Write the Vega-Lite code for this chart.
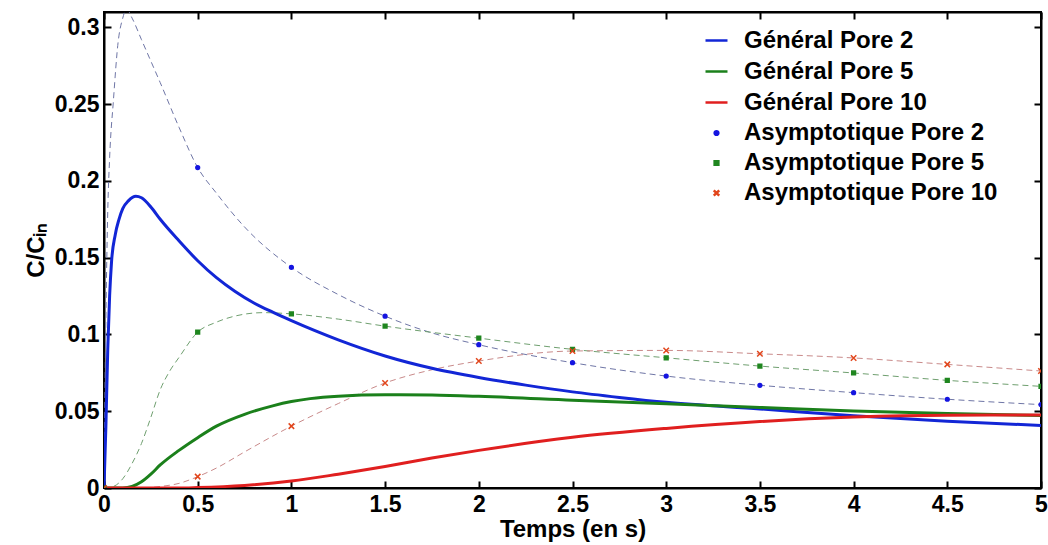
{
  "$schema": "https://vega.github.io/schema/vega-lite/v6.json",
  "width": 937,
  "height": 476,
  "autosize": "none",
  "padding": {"left": 104, "top": 12, "right": 7, "bottom": 57},
  "background": "white",
  "config": {
    "view": {"stroke": "black", "strokeWidth": 2},
    "font": "Liberation Sans",
    "axis": {
      "labelFont": "Liberation Sans", "labelFontWeight": "bold", "labelFontSize": 23, "labelColor": "black",
      "titleFont": "Liberation Sans", "titleFontWeight": "bold", "titleFontSize": 24, "titleColor": "black",
      "domainColor": "black", "domainWidth": 2, "tickColor": "black", "tickWidth": 2,
      "tickSize": -7, "labelPadding": 12, "grid": false, "labelFlush": false, "labelOverlap": false, "labelBound": false
    },
    "legend": {
      "orient": "none", "legendX": 600, "legendY": 16, "padding": 0,
      "labelFont": "Liberation Sans", "labelFontWeight": "bold", "labelFontSize": 24, "labelColor": "black",
      "labelLimit": 500, "labelOffset": 15, "rowPadding": 6, "symbolStrokeWidth": 2.5
    }
  },
  "datasets": {
    "gen": [
      {"t": 0, "v": 0, "s": "Général Pore 2"},
      {"t": 0.01, "v": 0.04, "s": "Général Pore 2"},
      {"t": 0.02, "v": 0.09, "s": "Général Pore 2"},
      {"t": 0.03, "v": 0.125, "s": "Général Pore 2"},
      {"t": 0.04, "v": 0.147, "s": "Général Pore 2"},
      {"t": 0.06, "v": 0.165, "s": "Général Pore 2"},
      {"t": 0.08, "v": 0.175, "s": "Général Pore 2"},
      {"t": 0.1, "v": 0.182, "s": "Général Pore 2"},
      {"t": 0.13, "v": 0.187, "s": "Général Pore 2"},
      {"t": 0.17, "v": 0.19, "s": "Général Pore 2"},
      {"t": 0.2, "v": 0.189, "s": "Général Pore 2"},
      {"t": 0.25, "v": 0.183, "s": "Général Pore 2"},
      {"t": 0.3, "v": 0.175, "s": "Général Pore 2"},
      {"t": 0.4, "v": 0.161, "s": "Général Pore 2"},
      {"t": 0.5, "v": 0.148, "s": "Général Pore 2"},
      {"t": 0.6, "v": 0.137, "s": "Général Pore 2"},
      {"t": 0.7, "v": 0.128, "s": "Général Pore 2"},
      {"t": 0.8, "v": 0.1205, "s": "Général Pore 2"},
      {"t": 0.9, "v": 0.1145, "s": "Général Pore 2"},
      {"t": 1.0, "v": 0.109, "s": "Général Pore 2"},
      {"t": 1.25, "v": 0.0965, "s": "Général Pore 2"},
      {"t": 1.5, "v": 0.086, "s": "Général Pore 2"},
      {"t": 1.75, "v": 0.078, "s": "Général Pore 2"},
      {"t": 2.0, "v": 0.072, "s": "Général Pore 2"},
      {"t": 2.25, "v": 0.067, "s": "Général Pore 2"},
      {"t": 2.5, "v": 0.0626, "s": "Général Pore 2"},
      {"t": 2.75, "v": 0.059, "s": "Général Pore 2"},
      {"t": 3.0, "v": 0.0558, "s": "Général Pore 2"},
      {"t": 3.5, "v": 0.0515, "s": "Général Pore 2"},
      {"t": 4.0, "v": 0.047, "s": "Général Pore 2"},
      {"t": 4.5, "v": 0.0435, "s": "Général Pore 2"},
      {"t": 5.0, "v": 0.0407, "s": "Général Pore 2"},
      {"t": 0, "v": 0, "s": "Général Pore 5"},
      {"t": 0.1, "v": 0, "s": "Général Pore 5"},
      {"t": 0.15, "v": 0.001, "s": "Général Pore 5"},
      {"t": 0.2, "v": 0.004, "s": "Général Pore 5"},
      {"t": 0.25, "v": 0.009, "s": "Général Pore 5"},
      {"t": 0.3, "v": 0.015, "s": "Général Pore 5"},
      {"t": 0.4, "v": 0.0245, "s": "Général Pore 5"},
      {"t": 0.5, "v": 0.0328, "s": "Général Pore 5"},
      {"t": 0.6, "v": 0.0403, "s": "Général Pore 5"},
      {"t": 0.75, "v": 0.048, "s": "Général Pore 5"},
      {"t": 0.9, "v": 0.0535, "s": "Général Pore 5"},
      {"t": 1.0, "v": 0.0563, "s": "Général Pore 5"},
      {"t": 1.1, "v": 0.0582, "s": "Général Pore 5"},
      {"t": 1.25, "v": 0.0598, "s": "Général Pore 5"},
      {"t": 1.5, "v": 0.0607, "s": "Général Pore 5"},
      {"t": 1.75, "v": 0.0605, "s": "Général Pore 5"},
      {"t": 2.0, "v": 0.0597, "s": "Général Pore 5"},
      {"t": 2.5, "v": 0.0572, "s": "Général Pore 5"},
      {"t": 3.0, "v": 0.0548, "s": "Général Pore 5"},
      {"t": 3.5, "v": 0.0525, "s": "Général Pore 5"},
      {"t": 4.0, "v": 0.0502, "s": "Général Pore 5"},
      {"t": 4.5, "v": 0.0485, "s": "Général Pore 5"},
      {"t": 5.0, "v": 0.0472, "s": "Général Pore 5"},
      {"t": 0, "v": 0, "s": "Général Pore 10"},
      {"t": 0.4, "v": 0, "s": "Général Pore 10"},
      {"t": 0.5, "v": 0.0003, "s": "Général Pore 10"},
      {"t": 0.75, "v": 0.0017, "s": "Général Pore 10"},
      {"t": 1.0, "v": 0.0045, "s": "Général Pore 10"},
      {"t": 1.25, "v": 0.009, "s": "Général Pore 10"},
      {"t": 1.5, "v": 0.014, "s": "Général Pore 10"},
      {"t": 1.75, "v": 0.0195, "s": "Général Pore 10"},
      {"t": 2.0, "v": 0.0245, "s": "Général Pore 10"},
      {"t": 2.5, "v": 0.033, "s": "Général Pore 10"},
      {"t": 3.0, "v": 0.0388, "s": "Général Pore 10"},
      {"t": 3.5, "v": 0.0433, "s": "Général Pore 10"},
      {"t": 4.0, "v": 0.0462, "s": "Général Pore 10"},
      {"t": 4.5, "v": 0.0474, "s": "Général Pore 10"},
      {"t": 5.0, "v": 0.0475, "s": "Général Pore 10"}
    ],
    "asym": [
      {"t": 0, "v": 0, "s": "A2"},
      {"t": 0.005, "v": 0.06, "s": "A2"},
      {"t": 0.01, "v": 0.11, "s": "A2"},
      {"t": 0.02, "v": 0.18, "s": "A2"},
      {"t": 0.03, "v": 0.215, "s": "A2"},
      {"t": 0.05, "v": 0.252, "s": "A2"},
      {"t": 0.075, "v": 0.29, "s": "A2"},
      {"t": 0.1, "v": 0.306, "s": "A2"},
      {"t": 0.12, "v": 0.312, "s": "A2"},
      {"t": 0.15, "v": 0.306, "s": "A2"},
      {"t": 0.2, "v": 0.292, "s": "A2"},
      {"t": 0.25, "v": 0.278, "s": "A2"},
      {"t": 0.3, "v": 0.264, "s": "A2"},
      {"t": 0.4, "v": 0.235, "s": "A2"},
      {"t": 0.5, "v": 0.2087, "s": "A2"},
      {"t": 0.6, "v": 0.192, "s": "A2"},
      {"t": 0.75, "v": 0.17, "s": "A2"},
      {"t": 1.0, "v": 0.1437, "s": "A2"},
      {"t": 1.25, "v": 0.126, "s": "A2"},
      {"t": 1.5, "v": 0.1119, "s": "A2"},
      {"t": 1.75, "v": 0.101, "s": "A2"},
      {"t": 2.0, "v": 0.0933, "s": "A2"},
      {"t": 2.5, "v": 0.0816, "s": "A2"},
      {"t": 3.0, "v": 0.0729, "s": "A2"},
      {"t": 3.5, "v": 0.0669, "s": "A2"},
      {"t": 4.0, "v": 0.0621, "s": "A2"},
      {"t": 4.5, "v": 0.0578, "s": "A2"},
      {"t": 5.0, "v": 0.0543, "s": "A2"},
      {"t": 0, "v": 0, "s": "A5"},
      {"t": 0.05, "v": 0.001, "s": "A5"},
      {"t": 0.1, "v": 0.006, "s": "A5"},
      {"t": 0.15, "v": 0.016, "s": "A5"},
      {"t": 0.2, "v": 0.029, "s": "A5"},
      {"t": 0.25, "v": 0.046, "s": "A5"},
      {"t": 0.3, "v": 0.064, "s": "A5"},
      {"t": 0.35, "v": 0.076, "s": "A5"},
      {"t": 0.4, "v": 0.085, "s": "A5"},
      {"t": 0.5, "v": 0.1015, "s": "A5"},
      {"t": 0.6, "v": 0.108, "s": "A5"},
      {"t": 0.7, "v": 0.112, "s": "A5"},
      {"t": 0.85, "v": 0.1142, "s": "A5"},
      {"t": 1.0, "v": 0.1134, "s": "A5"},
      {"t": 1.25, "v": 0.11, "s": "A5"},
      {"t": 1.5, "v": 0.1054, "s": "A5"},
      {"t": 2.0, "v": 0.0976, "s": "A5"},
      {"t": 2.5, "v": 0.0903, "s": "A5"},
      {"t": 3.0, "v": 0.0848, "s": "A5"},
      {"t": 3.5, "v": 0.0794, "s": "A5"},
      {"t": 4.0, "v": 0.0749, "s": "A5"},
      {"t": 4.5, "v": 0.0701, "s": "A5"},
      {"t": 5.0, "v": 0.0662, "s": "A5"},
      {"t": 0, "v": 0, "s": "A10"},
      {"t": 0.2, "v": 0, "s": "A10"},
      {"t": 0.3, "v": 0.001, "s": "A10"},
      {"t": 0.4, "v": 0.003, "s": "A10"},
      {"t": 0.5, "v": 0.0074, "s": "A10"},
      {"t": 0.6, "v": 0.013, "s": "A10"},
      {"t": 0.75, "v": 0.0235, "s": "A10"},
      {"t": 1.0, "v": 0.0403, "s": "A10"},
      {"t": 1.25, "v": 0.055, "s": "A10"},
      {"t": 1.5, "v": 0.0684, "s": "A10"},
      {"t": 1.75, "v": 0.077, "s": "A10"},
      {"t": 2.0, "v": 0.0827, "s": "A10"},
      {"t": 2.5, "v": 0.0892, "s": "A10"},
      {"t": 3.0, "v": 0.0896, "s": "A10"},
      {"t": 3.5, "v": 0.0874, "s": "A10"},
      {"t": 4.0, "v": 0.0847, "s": "A10"},
      {"t": 4.5, "v": 0.0805, "s": "A10"},
      {"t": 5.0, "v": 0.0762, "s": "A10"}
    ],
    "mk": [
      {"t": 0, "v": 0, "s": "Asymptotique Pore 2"},
      {"t": 0.5, "v": 0.2087, "s": "Asymptotique Pore 2"},
      {"t": 1.0, "v": 0.1437, "s": "Asymptotique Pore 2"},
      {"t": 1.5, "v": 0.1119, "s": "Asymptotique Pore 2"},
      {"t": 2.0, "v": 0.0933, "s": "Asymptotique Pore 2"},
      {"t": 2.5, "v": 0.0816, "s": "Asymptotique Pore 2"},
      {"t": 3.0, "v": 0.0729, "s": "Asymptotique Pore 2"},
      {"t": 3.5, "v": 0.0669, "s": "Asymptotique Pore 2"},
      {"t": 4.0, "v": 0.0621, "s": "Asymptotique Pore 2"},
      {"t": 4.5, "v": 0.0578, "s": "Asymptotique Pore 2"},
      {"t": 5.0, "v": 0.0543, "s": "Asymptotique Pore 2"},
      {"t": 0, "v": 0, "s": "Asymptotique Pore 5"},
      {"t": 0.5, "v": 0.1015, "s": "Asymptotique Pore 5"},
      {"t": 1.0, "v": 0.1134, "s": "Asymptotique Pore 5"},
      {"t": 1.5, "v": 0.1054, "s": "Asymptotique Pore 5"},
      {"t": 2.0, "v": 0.0976, "s": "Asymptotique Pore 5"},
      {"t": 2.5, "v": 0.0903, "s": "Asymptotique Pore 5"},
      {"t": 3.0, "v": 0.0848, "s": "Asymptotique Pore 5"},
      {"t": 3.5, "v": 0.0794, "s": "Asymptotique Pore 5"},
      {"t": 4.0, "v": 0.0749, "s": "Asymptotique Pore 5"},
      {"t": 4.5, "v": 0.0701, "s": "Asymptotique Pore 5"},
      {"t": 5.0, "v": 0.0662, "s": "Asymptotique Pore 5"},
      {"t": 0, "v": 0, "s": "Asymptotique Pore 10"},
      {"t": 0.5, "v": 0.0074, "s": "Asymptotique Pore 10"},
      {"t": 1.0, "v": 0.0403, "s": "Asymptotique Pore 10"},
      {"t": 1.5, "v": 0.0684, "s": "Asymptotique Pore 10"},
      {"t": 2.0, "v": 0.0827, "s": "Asymptotique Pore 10"},
      {"t": 2.5, "v": 0.0892, "s": "Asymptotique Pore 10"},
      {"t": 3.0, "v": 0.0896, "s": "Asymptotique Pore 10"},
      {"t": 3.5, "v": 0.0874, "s": "Asymptotique Pore 10"},
      {"t": 4.0, "v": 0.0847, "s": "Asymptotique Pore 10"},
      {"t": 4.5, "v": 0.0805, "s": "Asymptotique Pore 10"},
      {"t": 5.0, "v": 0.0762, "s": "Asymptotique Pore 10"}
    ]
  },
  "resolve": {"axis": {"x": "independent", "y": "independent"}},
  "layer": [
    {
      "data": {"name": "asym"},
      "transform": [{"filter": "datum.s == 'A2'"}],
      "mark": {"type": "line", "strokeWidth": 1, "strokeDash": [6, 4], "interpolate": "monotone", "clip": true, "color": "#6f76a6"},
      "encoding": {
        "x": {"field": "t", "type": "quantitative", "scale": {"domain": [0, 5], "nice": false},
          "axis": {"orient": "bottom", "values": [0, 0.5, 1, 1.5, 2, 2.5, 3, 3.5, 4, 4.5, 5], "format": "~g", "title": "Temps (en s)", "titlePadding": 1}},
        "y": {"field": "v", "type": "quantitative", "scale": {"domain": [0, 0.31], "nice": false, "zero": false},
          "axis": {"orient": "left", "values": [0, 0.05, 0.1, 0.15, 0.2, 0.25, 0.3], "format": "~g", "title": "C/Cᵢₙ", "titlePadding": 6}}
      }
    },
    {
      "data": {"name": "asym"},
      "transform": [{"filter": "datum.s == 'A5'"}],
      "mark": {"type": "line", "strokeWidth": 1, "strokeDash": [6, 4], "interpolate": "monotone", "clip": true, "color": "#6f9f6f"},
      "encoding": {
        "x": {"field": "t", "type": "quantitative", "axis": null},
        "y": {"field": "v", "type": "quantitative", "axis": null}
      }
    },
    {
      "data": {"name": "asym"},
      "transform": [{"filter": "datum.s == 'A10'"}],
      "mark": {"type": "line", "strokeWidth": 1, "strokeDash": [6, 4], "interpolate": "monotone", "clip": true, "color": "#c98a8a"},
      "encoding": {
        "x": {"field": "t", "type": "quantitative", "axis": null},
        "y": {"field": "v", "type": "quantitative", "axis": null}
      }
    },
    {
      "data": {"name": "gen"},
      "mark": {"type": "line", "strokeWidth": 3, "interpolate": "monotone", "clip": true},
      "encoding": {
        "x": {"field": "t", "type": "quantitative",
          "axis": {"orient": "top", "values": [0, 0.5, 1, 1.5, 2, 2.5, 3, 3.5, 4, 4.5, 5], "labels": false, "title": null}},
        "y": {"field": "v", "type": "quantitative",
          "axis": {"orient": "right", "values": [0, 0.05, 0.1, 0.15, 0.2, 0.25, 0.3], "labels": false, "title": null}},
        "color": {
          "field": "s", "type": "nominal",
          "scale": {
            "domain": ["Général Pore 2", "Général Pore 5", "Général Pore 10", "Asymptotique Pore 2", "Asymptotique Pore 5", "Asymptotique Pore 10"],
            "range": ["#1226d6", "#1b801b", "#e01f1f", "#1515e0", "#1f861f", "#e2461c"]
          },
          "legend": {"title": null}
        }
      }
    },
    {
      "data": {"name": "mk"},
      "mark": {"type": "point", "filled": false, "opacity": 1, "strokeWidth": 1.5, "clip": true},
      "encoding": {
        "x": {"field": "t", "type": "quantitative", "axis": null},
        "y": {"field": "v", "type": "quantitative", "axis": null},
        "color": {"field": "s", "type": "nominal", "legend": {"title": null}},
        "fill": {"field": "s", "type": "nominal", "legend": {"title": null},
          "scale": {
            "domain": ["Général Pore 2", "Général Pore 5", "Général Pore 10", "Asymptotique Pore 2", "Asymptotique Pore 5", "Asymptotique Pore 10"],
            "range": ["transparent", "transparent", "transparent", "#1515e0", "#1f861f", "#e2461c"]
          }},
        "shape": {"field": "s", "type": "nominal", "legend": {"title": null},
          "scale": {
            "domain": ["Général Pore 2", "Général Pore 5", "Général Pore 10", "Asymptotique Pore 2", "Asymptotique Pore 5", "Asymptotique Pore 10"],
            "range": ["stroke", "stroke", "stroke", "circle", "square", "M-1,-1L1,1M-1,1L1,-1"]
          }},
        "size": {"field": "s", "type": "nominal", "legend": {"title": null},
          "scale": {
            "type": "ordinal",
            "domain": ["Général Pore 2", "Général Pore 5", "Général Pore 10", "Asymptotique Pore 2", "Asymptotique Pore 5", "Asymptotique Pore 10"],
            "range": [484, 484, 484, 14, 14, 30]
          }}
      }
    }
  ]
}
